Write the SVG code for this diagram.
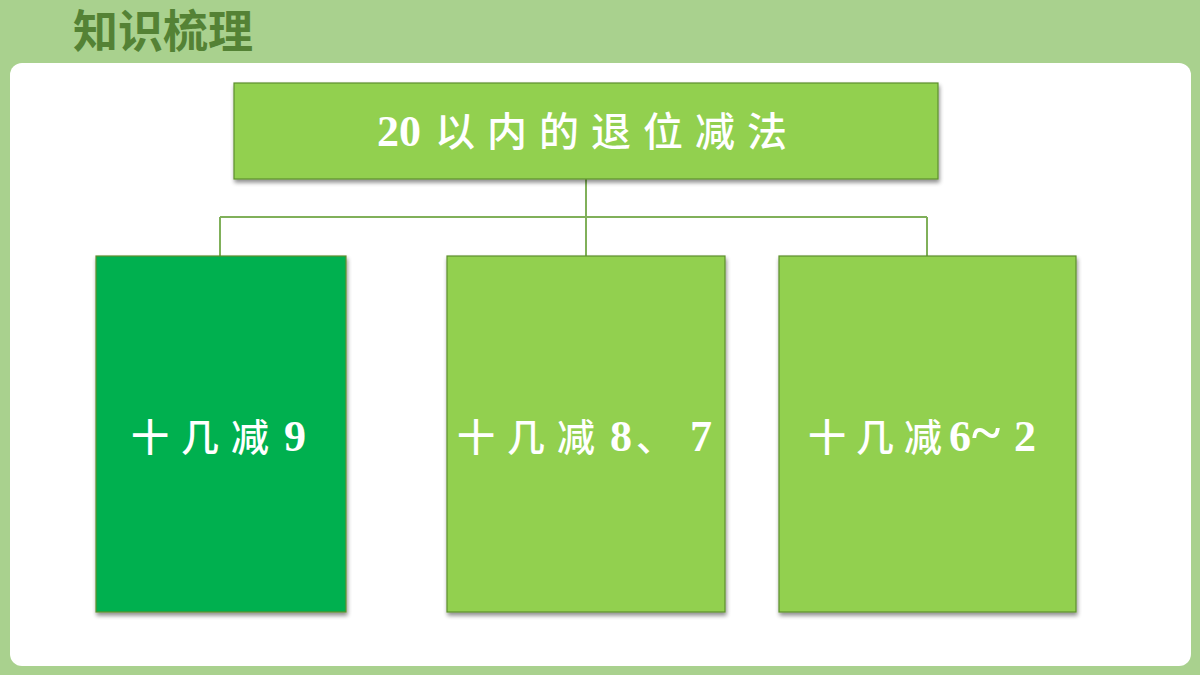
<svg xmlns="http://www.w3.org/2000/svg" width="1200" height="675" viewBox="0 0 1200 675">
<defs>
<filter id="sh" x="-10%" y="-10%" width="120%" height="120%">
<feGaussianBlur in="SourceAlpha" stdDeviation="2"/>
<feOffset dx="1" dy="3" result="b"/>
<feComponentTransfer><feFuncA type="linear" slope="0.45"/></feComponentTransfer>
<feMerge><feMergeNode/><feMergeNode in="SourceGraphic"/></feMerge>
</filter>
</defs>
<style>
.box{stroke:#5e8f2e;stroke-width:1.2;filter:url(#sh)}
.lt{fill:#92d050}
.dk{fill:#00b050}
.lbl{fill:#ffffff}
.cjk{font-family:"Noto Sans CJK SC",sans-serif;font-weight:500;font-size:38px}
.dig{font-family:"Liberation Serif",serif;font-weight:bold;font-size:44px}
.con{stroke:#80b05a;stroke-width:2;fill:none}
</style>
<rect x="0" y="0" width="1200" height="675" fill="#a9d18e"/>
<rect x="10" y="63" width="1181" height="603" rx="12" fill="#ffffff"/>
<text x="73" y="48" font-family="'Noto Sans CJK SC',sans-serif" font-size="45" font-weight="bold" fill="#548235">知识梳理</text>
<g id="connectors">
<path class="con" d="M586 179 V217 M220 217 H927 M220 217 V256 M586 217 V256 M927 217 V256"/>
</g>
<g id="root">
<rect class="box lt" x="234" y="83" width="704" height="96"/>
<text class="lbl" y="146"><tspan class="dig" x="377" font-size="46">20</tspan><tspan class="cjk" x="435 487 539 591 643 695 747" style="font-size:40px">以内的退位减法</tspan></text>
</g>
<g id="n1">
<rect class="box dk" x="96" y="256" width="250" height="356"/>
<text class="lbl" y="451"><tspan class="cjk" x="131 181 231">十几减</tspan><tspan class="dig" x="284">9</tspan></text>
</g>
<g id="n2">
<rect class="box lt" x="447" y="256" width="278" height="356"/>
<text class="lbl" y="451"><tspan class="cjk" x="457 507 557">十几减</tspan><tspan class="dig" x="610">8</tspan><tspan class="cjk" x="636">、</tspan><tspan class="dig" x="690">7</tspan></text>
</g>
<g id="n3">
<rect class="box lt" x="779" y="256" width="297" height="356"/>
<text class="lbl" y="451"><tspan class="cjk" x="808 856 904">十几减</tspan><tspan class="dig" x="949">6</tspan><tspan class="dig" x="972" style="font-size:54px">~</tspan><tspan class="dig" x="1014">2</tspan></text>
</g>
</svg>
